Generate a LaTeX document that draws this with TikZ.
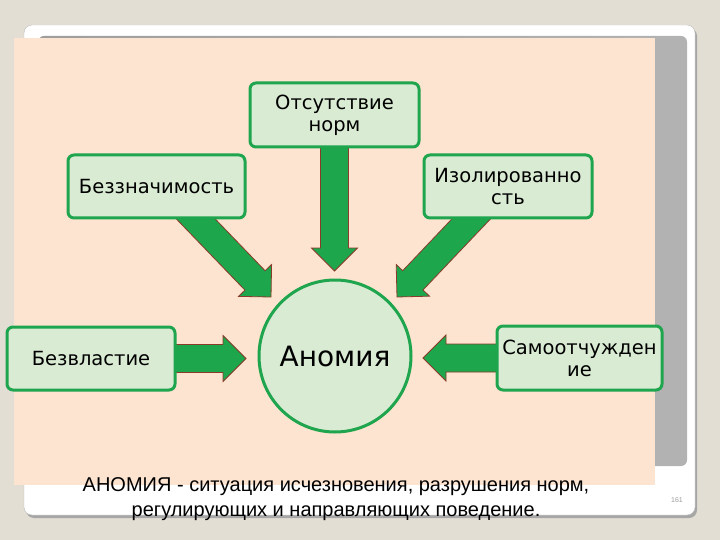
\documentclass[tikz,border=0pt]{standalone}
\usepackage{fontspec}
\setmainfont{DejaVu Sans}
\newfontfamily\captionfont{Liberation Sans}
\usetikzlibrary{calc}

\definecolor{pagebg}{HTML}{E3DED4}
\definecolor{panel}{HTML}{FDE4D0}
\definecolor{boxfill}{HTML}{D9EBD3}
\definecolor{boxline}{HTML}{1FA54E}
\definecolor{arrowfill}{HTML}{1DA64C}
\definecolor{arrowline}{HTML}{8A3B2B}

\pgfdeclarelayer{back}
\pgfdeclarelayer{mid}
\pgfsetlayers{back,mid,main}

% block arrow from #1 to tip #2
\newcommand{\fatarrow}[2]{%
  \coordinate (fa-h) at ($(#2)!23pt!(#1)$);
  \draw[fatarrow] ($(#1)!14pt!90:(#2)$) -- ($(fa-h)!14pt!90:(#2)$) -- ($(fa-h)!23pt!90:(#2)$)
    -- (#2) -- ($(fa-h)!23pt!-90:(#2)$) -- ($(fa-h)!14pt!-90:(#2)$) -- ($(#1)!14pt!-90:(#2)$) -- cycle;}

\begin{document}
\begin{tikzpicture}[x=1pt,y=-1pt,
  termbox/.style={draw=boxline, line width=3pt, fill=boxfill, rounded corners=6pt,
    align=center, font=\fontsize{19.5}{22}\selectfont, inner sep=0pt},
  fatarrow/.style={fill=arrowfill, draw=arrowline, line width=0.8pt, line join=miter}]
  \useasboundingbox (0,0) rectangle (720,540);

  \begin{pgfonlayer}{back}
    \fill[pagebg] (0,0) rectangle (720,540);
    \fill[black!35, rounded corners=8pt] (26,28) rectangle (697,518);
    \fill[white, rounded corners=8pt] (24,25) rectangle (695,515);
    \draw[black!25] (24,25) [rounded corners=8pt] rectangle (695,515);
    \shade[left color=black!38, right color=black!30, rounded corners=6pt] (38,36) rectangle (687,466);
    \fill[panel] (14,38) rectangle (655,485);
  \end{pgfonlayer}

  % circle in the middle
  \node[draw=boxline, line width=3pt, fill=boxfill, circle, minimum size=152pt,
    font=\fontsize{28}{32}\selectfont] (anom) at (335,356) {Аномия};

  % the five causes
  \node[termbox, minimum width=169pt, minimum height=64pt] (otsut) at (334.5,115) {Отсутствие\\норм};
  \node[termbox, minimum width=177pt, minimum height=63pt] (bezz) at (156.5,186.5) {Беззначимость};
  \node[termbox, minimum width=168pt, minimum height=63pt] (izol) at (508,186.5) {Изолированно\\сть};
  \node[termbox, minimum width=168pt, minimum height=63pt] (bezvl) at (91,358.5) {Безвластие};
  \node[termbox, minimum width=165pt, minimum height=64pt] (samo) at (579.5,358) {Самоотчужден\\ие};

  \coordinate (t-otsut) at (334.5,271);
  \coordinate (t-bezz) at (271,297);
  \coordinate (t-izol) at (397,297);
  \coordinate (t-bezvl) at (246,358.5);
  \coordinate (t-samo) at (423,358);

  \begin{pgfonlayer}{mid}
    \fatarrow{otsut}{t-otsut}
    \fatarrow{$(bezz)+(8,0)$}{t-bezz}
    \fatarrow{$(izol)+(-6,0)$}{t-izol}
    \fatarrow{bezvl}{t-bezvl}
    \fatarrow{samo}{t-samo}
  \end{pgfonlayer}

  \node[align=center, font=\captionfont\fontsize{20}{25}\selectfont] (defn) at (336,499)
    {АНОМИЯ - ситуация исчезновения, разрушения норм,\\регулирующих и направляющих поведение.};
  \node[text=black!40, font=\captionfont\fontsize{7}{8}\selectfont] (pnum) at (677,500) {161};
\end{tikzpicture}
\end{document}
